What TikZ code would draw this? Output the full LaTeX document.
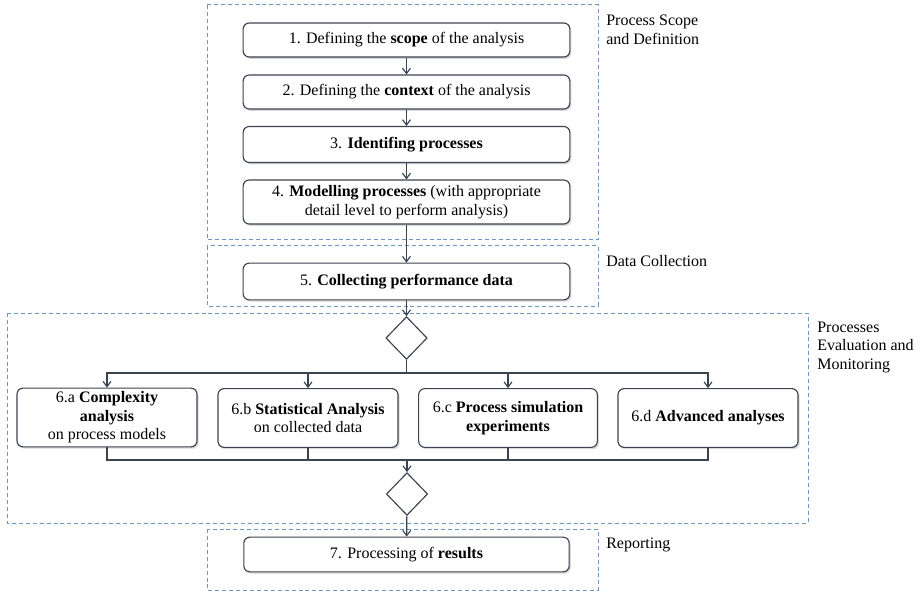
\documentclass[tikz,border=0pt]{standalone}
\usepackage{fontspec}
\setmainfont{Liberation Serif}
\usepackage{xcolor}
\usepackage{tikz}
\usetikzlibrary{shapes.geometric,shadows,arrows.meta}

\definecolor{framecol}{HTML}{6A98C6}
\definecolor{edgecol}{HTML}{3A4450}

\tikzset{
  stage/.style={draw=framecol,line width=0.75pt,dash pattern=on 3pt off 2.2pt},
  task/.style={draw=edgecol,line width=0.85pt,rounded corners=4.5pt,fill=white,
    align=center,inner sep=1pt,
    drop shadow={shadow xshift=1.2pt,shadow yshift=-1.4pt,opacity=0.25,fill=black!60}},
  gate/.style={draw=edgecol,line width=0.85pt,diamond,fill=white,inner sep=0pt,
    minimum width=31pt,minimum height=32pt},
  flow/.style={draw=edgecol,line width=0.85pt},
  tag/.style={anchor=north west,align=left,inner sep=0pt},
}

\begin{document}
\begin{tikzpicture}[x=0.75pt,y=-0.75pt,>={Straight Barb[length=4pt,width=6pt]},
    font=\fontsize{12}{13.8}\selectfont]
  \useasboundingbox (0,0) rectangle (923,591);
  % the four phases
  \draw[stage] (207,5) rectangle (598,240);
  \draw[stage] (207,246) rectangle (598,306);
  \draw[stage] (7,313) rectangle (808,523);
  \draw[stage] (207,529) rectangle (598,590);
  \node[tag] (l1) at (606,15) {Process Scope\\and Definition};
  \node[tag] (l2) at (606,255.5) {Data Collection};
  \node[tag] (l3) at (817,321.5) {Processes\\Evaluation and\\Monitoring};
  \node[tag] (l4) at (606,537.5) {Reporting};

  % main steps
  \node (s1) at (406.5,40) [task,minimum width=245pt,minimum height=25.5pt] {1. Defining the \textbf{scope} of the analysis};
  \node (s2) at (406.5,92) [task,minimum width=245pt,minimum height=25.5pt] {2. Defining the \textbf{context} of the analysis};
  \node (s3) at (406.5,144.5) [task,minimum width=245pt,minimum height=27pt] {3. \textbf{Identifing processes}};
  \node (s4) at (406.5,202) [task,minimum width=245pt,minimum height=33pt] {4. \textbf{Modelling processes} (with appropriate\\detail level to perform analysis)};
  \node (s5) at (406.5,281.5) [task,minimum width=245pt,minimum height=27.5pt] {5. \textbf{Collecting performance data}};
  \node (d1) at (406.5,338) [gate] {};

  % the four analyses
  \node (a) at (107,417.5) [task,minimum width=135pt,minimum height=44pt] {6.a \textbf{Complexity}\\\textbf{analysis}\\on process models};
  \node (b) at (308,418) [task,minimum width=135pt,minimum height=44pt] {6.b \textbf{Statistical Analysis}\\on collected data};
  \node (c) at (508,418) [task,minimum width=134pt,minimum height=44pt] {6.c \textbf{Process simulation}\\\textbf{experiments}};
  \node (d) at (708,418) [task,minimum width=135pt,minimum height=44pt] {6.d \textbf{Advanced analyses}};
  \node (d2) at (407,494) [gate] {};
  \node (s7) at (406.5,554.5) [task,minimum width=244pt,minimum height=26pt] {7. Processing of \textbf{results}};

  \coordinate (split) at (406.5,373);
  \coordinate (join) at (407,460);

  % connectors
  \draw[flow,->] (s1) -- (s2);
  \draw[flow,->] (s2) -- (s3);
  \draw[flow,->] (s3) -- (s4);
  \draw[flow,->] (s4) -- (s5);
  \draw[flow,->] (s5) -- (d1);
  \draw[flow] (d1.south) -- (split);
  \foreach \n in {a,b,c,d}
    \draw[flow,->] (split) -| (\n.north);
  \foreach \n in {a,b,c,d}
    \draw[flow] (\n.south) |- (join);
  \draw[flow,->] (join) -- (d2.north);
  \draw[flow,->] (d2) -- (s7);
\end{tikzpicture}
\end{document}
